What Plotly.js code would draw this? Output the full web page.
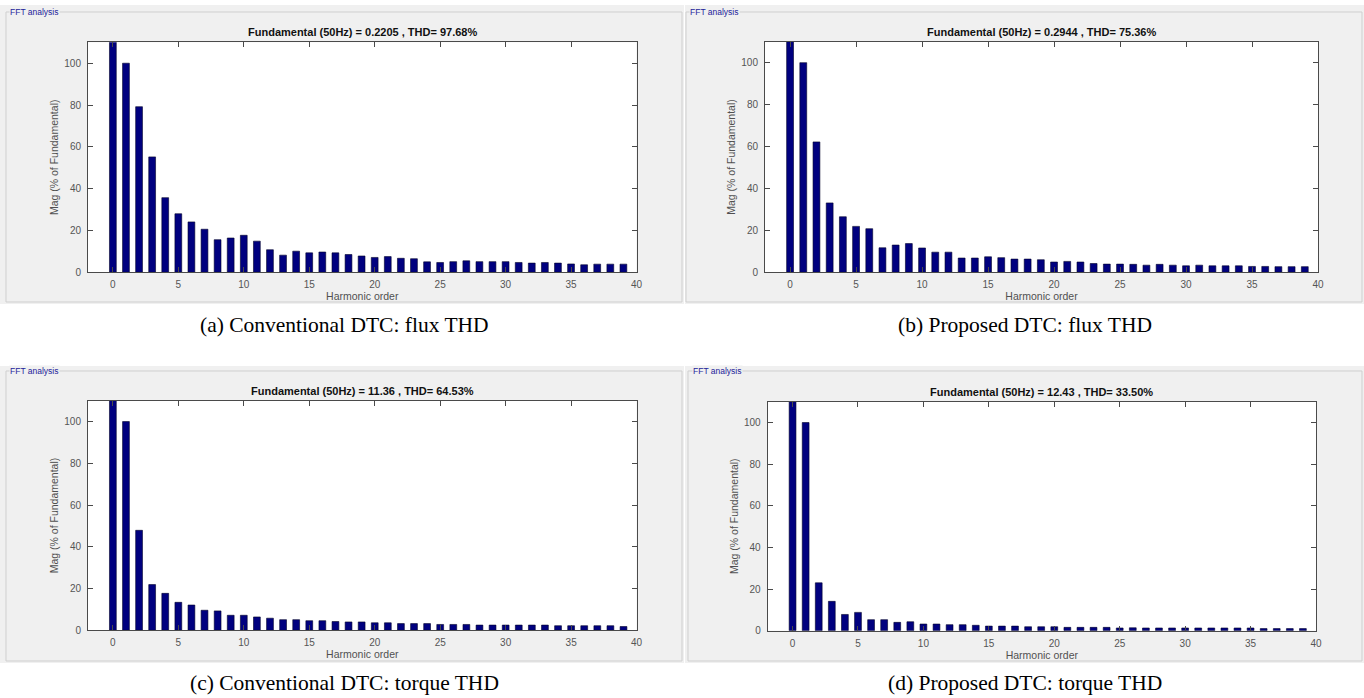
<!DOCTYPE html>
<html><head><meta charset="utf-8">
<script src="https://cdn.plot.ly/plotly-3.0.1.min.js"></script>
<style>html,body{margin:0;padding:0;background:#fff;overflow:hidden}#chart{width:1364px;height:698px}</style>
</head><body><div id="chart"></div>
<script>
// ---------- data ----------
const harmonicOrder = [0,1,2,3,4,5,6,7,8,9,10,11,12,13,14,15,16,17,18,19,20,21,22,23,24,25,26,27,28,29,30,31,32,33,34,35,36,37,38,39];
// DC bar (order 0) runs past the top of the axis in every panel
const fluxConventional = [115,100,79.2,55.2,35.7,28.0,24.1,20.6,15.6,16.4,17.7,14.9,10.8,8.2,10.1,9.3,9.7,9.3,8.5,7.8,7.1,7.5,6.7,6.5,5.0,4.7,5.1,5.5,5.1,5.1,5.1,4.7,4.4,4.7,4.4,4.0,3.6,3.9,3.9,3.9];
const fluxProposed     = [115,100,62.2,33.1,26.5,21.9,20.8,11.7,13.0,13.7,11.6,9.6,9.6,6.8,6.8,7.4,7.0,6.3,6.3,6.0,4.9,5.2,4.9,4.2,3.9,3.9,3.8,3.4,3.8,3.4,3.1,3.4,3.1,3.1,3.1,2.8,2.8,2.7,2.7,2.7];
const torqueConventional = [115,100,47.9,21.9,17.7,13.4,12.1,9.6,9.3,7.2,7.2,6.4,5.8,5.1,5.1,4.6,4.6,4.2,4.0,4.0,3.6,3.6,3.2,3.2,3.2,2.8,2.8,2.8,2.5,2.5,2.5,2.5,2.5,2.5,2.2,2.2,2.2,2.2,2.2,1.8];
const torqueProposed     = [115,100,23.0,14.1,7.8,8.8,5.3,5.3,4.0,4.3,3.2,3.2,2.9,2.9,2.6,2.2,2.2,2.2,1.9,1.9,1.9,1.6,1.6,1.6,1.6,1.3,1.4,1.3,1.3,1.3,1.3,1.3,1.3,1.3,1.3,1.3,1.0,1.0,1.0,1.0];
const yTickVals = [0,20,40,60,80,100];
const xTickVals = [0,5,10,15,20,25,30,35,40];
const plotTitles = [
  "Fundamental (50Hz) = 0.2205 , THD= 97.68%",
  "Fundamental (50Hz) = 0.2944 , THD= 75.36%",
  "Fundamental (50Hz) = 11.36 , THD= 64.53%",
  "Fundamental (50Hz) = 12.43 , THD= 33.50%"
];
const captions = [
  "(a) Conventional DTC: flux THD",
  "(b) Proposed DTC: flux THD",
  "(c) Conventional DTC: torque THD",
  "(d) Proposed DTC: torque THD"
];
const groupLabel = "FFT analysis";
const xTitle = "Harmonic order";
const yTitle = "Mag (% of Fundamental)";
const series = [fluxConventional, fluxProposed, torqueConventional, torqueProposed];

// ---------- layout geometry (pixels) ----------
const W = 1364, H = 698;
const px = x => x / W, py = y => 1 - y / H;
const panels = [
  {plot:[88,636.5,42.3,272.3],  gray:[0,5,684,304],     frame:[6,12,682,302],    fft:[9,12],    title:[362,32],   caption:[344,325]},
  {plot:[765,1318,41.7,272.3],  gray:[685,5,1364,304],  frame:[686,12,1362,302], fft:[689,12],  title:[1041,32],  caption:[1025,325]},
  {plot:[88,636.6,400.7,630.3], gray:[0,366,684,663],   frame:[6,371,682,661],   fft:[9,371],   title:[362,391],  caption:[344,683]},
  {plot:[767.7,1316,401.7,630.7],gray:[685,366,1364,663],frame:[688,371,1362,661],fft:[692,371], title:[1041,392], caption:[1025,683]}
];

const axisColor = '#4a4a4a';
const tickFont = {family:'Liberation Sans, Arial, sans-serif', size:10, color:'#555555'};
const titleFont = {family:'Liberation Sans, Arial, sans-serif', size:10.5, color:'#505050'};

function rectPath(x0, y0, x1, y1) {
  return 'M' + px(x0) + ',' + py(y0) + ' L' + px(x1) + ',' + py(y0) + ' L' + px(x1) + ',' + py(y1) + ' L' + px(x0) + ',' + py(y1) + ' Z';
}

const data = [];
const layout = {
  width: W, height: H,
  margin: {l:0, r:0, t:0, b:0},
  paper_bgcolor: '#ffffff',
  plot_bgcolor: '#ffffff',
  showlegend: false,
  bargap: 0,
  shapes: [],
  annotations: []
};

panels.forEach((p, i) => {
  const s = i === 0 ? '' : String(i + 1);
  data.push({
    type: 'bar',
    x: harmonicOrder,
    y: series[i],
    width: 0.52,
    xaxis: 'x' + s, yaxis: 'y' + s,
    marker: {color: '#00007f', line: {color: '#00002a', width: 0.6}},
    hoverinfo: 'x+y'
  });
  layout['xaxis' + s] = {
    domain: [px(p.plot[0]), px(p.plot[1])],
    anchor: 'y' + s,
    range: [-1.9, 40],
    tickvals: xTickVals,
    ticks: 'inside', ticklen: 5, tickcolor: axisColor,
    showline: true, linecolor: axisColor, linewidth: 1, mirror: 'ticks',
    showgrid: false, zeroline: false,
    tickfont: tickFont,
    ticklabelstandoff: 3,
    title: {text: xTitle, font: titleFont, standoff: 3}
  };
  layout['yaxis' + s] = {
    domain: [py(p.plot[3]), py(p.plot[2])],
    anchor: 'x' + s,
    range: [0, 110],
    tickvals: yTickVals,
    ticks: 'inside', ticklen: 5, tickcolor: axisColor,
    showline: true, linecolor: axisColor, linewidth: 1, mirror: 'ticks',
    showgrid: false, zeroline: false,
    tickfont: tickFont,
    ticklabelstandoff: 4,
    title: {text: yTitle, font: titleFont, standoff: 3}
  };
  // gray panel background with a hole where the white axes sit
  layout.shapes.push({type:'path', xref:'paper', yref:'paper', layer:'below',
    path: rectPath(p.gray[0], p.gray[1], p.gray[2], p.gray[3]) + ' ' + rectPath(p.plot[0], p.plot[2], p.plot[1], p.plot[3]),
    fillrule: 'evenodd', fillcolor:'#f0f0f0', line:{width:0}});
  // etched group frame
  layout.shapes.push({type:'rect', xref:'paper', yref:'paper', layer:'below',
    x0: px(p.frame[0]), x1: px(p.frame[2]), y0: py(p.frame[3]), y1: py(p.frame[1]),
    fillcolor:'rgba(0,0,0,0)', line:{width:1, color:'#cfcfcf'}});
  layout.annotations.push({xref:'paper', yref:'paper', x: px(p.fft[0]), y: py(p.fft[1]),
    xanchor:'left', yanchor:'middle', showarrow:false, text: groupLabel,
    bgcolor:'#f0f0f0', borderpad:0,
    font:{family:'Liberation Sans, Arial, sans-serif', size:8.5, color:'#23239a'}});
  layout.annotations.push({xref:'paper', yref:'paper', x: px(p.title[0]), y: py(p.title[1]),
    xanchor:'center', yanchor:'middle', showarrow:false, text: '<b>' + plotTitles[i] + '</b>',
    font:{family:'Liberation Sans, Arial, sans-serif', size:11, color:'#111111'}});
  layout.annotations.push({xref:'paper', yref:'paper', x: px(p.caption[0]), y: py(p.caption[1]),
    xanchor:'center', yanchor:'middle', showarrow:false, text: captions[i],
    font:{family:'Liberation Serif, Times New Roman, serif', size:21.5, color:'#000000'}});
});

Plotly.newPlot('chart', data, layout, {displayModeBar:false, staticPlot:true});
</script>
</body></html>
